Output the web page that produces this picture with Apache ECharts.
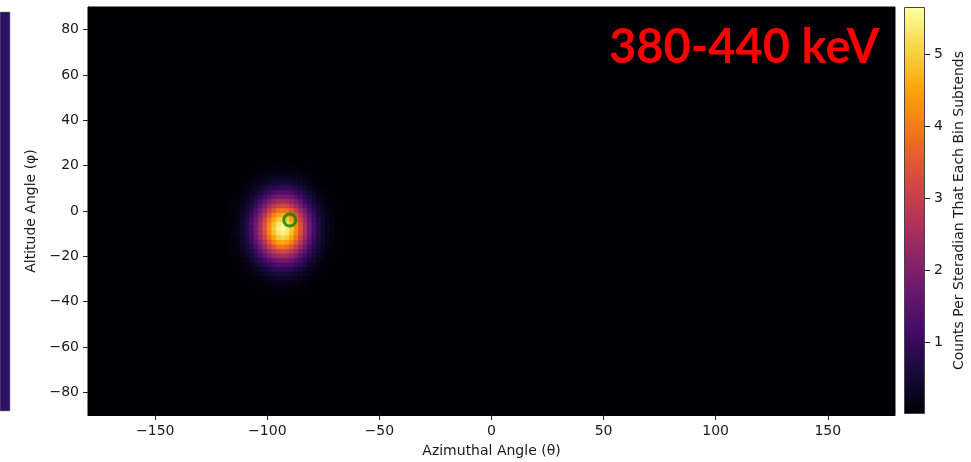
<!DOCTYPE html>
<html>
<head>
<meta charset="utf-8">
<script src="https://cdn.jsdelivr.net/npm/echarts@6/dist/echarts.min.js"></script>
<style>
html,body{margin:0;padding:0;background:#fff;}
#chart{width:971px;height:462px;}
</style>
</head>
<body>
<div id="chart"></div>
<script>
// ---- data ----
const thetaCenters = [-119,-117,-115,-113,-111,-109,-107,-105,-103,-101,-99,-97,-95,-93,-91,-89,-87,-85,-83,-81,-79,-77,-75,-73,-71,-69,-67];
const phiCenters = [20,18,16,14,12,10,8,6,4,2,0,-2,-4,-6,-8,-10,-12,-14,-16,-18,-20,-22,-24,-26,-28,-30,-32,-34,-36];
const counts = [
 [0,0,0,0,0.01,0.01,0.02,0.02,0.03,0.04,0.05,0.06,0.07,0.07,0.07,0.06,0.05,0.04,0.03,0.02,0.02,0.01,0.01,0,0,0,0],
 [0,0,0,0.01,0.01,0.02,0.03,0.04,0.06,0.08,0.10,0.12,0.13,0.13,0.13,0.12,0.10,0.08,0.06,0.04,0.03,0.02,0.01,0.01,0,0,0],
 [0,0,0.01,0.01,0.02,0.03,0.05,0.07,0.11,0.14,0.17,0.20,0.22,0.23,0.22,0.20,0.17,0.14,0.11,0.07,0.05,0.03,0.02,0.01,0.01,0,0],
 [0,0,0.01,0.02,0.03,0.05,0.08,0.12,0.18,0.23,0.29,0.34,0.37,0.38,0.37,0.34,0.29,0.23,0.18,0.12,0.08,0.05,0.03,0.02,0.01,0,0],
 [0,0.01,0.01,0.03,0.05,0.08,0.13,0.20,0.28,0.37,0.46,0.54,0.59,0.61,0.59,0.54,0.46,0.37,0.28,0.20,0.13,0.08,0.05,0.03,0.01,0.01,0],
 [0,0.01,0.02,0.04,0.07,0.13,0.20,0.30,0.43,0.56,0.70,0.82,0.90,0.93,0.90,0.82,0.70,0.56,0.43,0.30,0.20,0.13,0.07,0.04,0.02,0.01,0],
 [0.01,0.02,0.03,0.06,0.11,0.18,0.29,0.44,0.62,0.82,1.02,1.20,1.31,1.36,1.31,1.20,1.02,0.82,0.62,0.44,0.29,0.18,0.11,0.06,0.03,0.02,0.01],
 [0.01,0.02,0.04,0.08,0.15,0.26,0.41,0.61,0.86,1.15,1.43,1.67,1.83,1.89,1.83,1.67,1.43,1.15,0.86,0.61,0.41,0.26,0.15,0.08,0.04,0.02,0.01],
 [0.01,0.03,0.06,0.11,0.20,0.34,0.54,0.82,1.15,1.53,1.90,2.22,2.45,2.52,2.45,2.22,1.90,1.53,1.15,0.82,0.54,0.34,0.20,0.11,0.06,0.03,0.01],
 [0.02,0.04,0.07,0.14,0.26,0.44,0.70,1.05,1.47,1.95,2.43,2.84,3.12,3.22,3.12,2.84,2.43,1.95,1.47,1.05,0.70,0.44,0.26,0.14,0.07,0.04,0.02],
 [0.02,0.04,0.09,0.17,0.31,0.53,0.85,1.28,1.80,2.38,2.97,3.46,3.81,3.93,3.81,3.46,2.97,2.38,1.80,1.28,0.85,0.53,0.31,0.17,0.09,0.04,0.02],
 [0.02,0.05,0.10,0.20,0.37,0.62,0.99,1.49,2.10,2.78,3.46,4.05,4.45,4.59,4.45,4.05,3.46,2.78,2.10,1.49,0.99,0.62,0.37,0.20,0.10,0.05,0.02],
 [0.03,0.06,0.12,0.23,0.41,0.69,1.11,1.67,2.34,3.11,3.87,4.52,4.97,5.12,4.97,4.52,3.87,3.11,2.34,1.67,1.11,0.69,0.41,0.23,0.12,0.06,0.03],
 [0.03,0.06,0.13,0.24,0.44,0.74,1.18,1.78,2.50,3.33,4.14,4.83,5.31,5.48,5.31,4.83,4.14,3.33,2.50,1.78,1.18,0.74,0.44,0.24,0.13,0.06,0.03],
 [0.03,0.06,0.13,0.25,0.45,0.76,1.21,1.82,2.56,3.40,4.23,4.94,5.43,5.60,5.43,4.94,4.23,3.40,2.56,1.82,1.21,0.76,0.45,0.25,0.13,0.06,0.03],
 [0.03,0.06,0.13,0.24,0.44,0.74,1.18,1.78,2.50,3.33,4.14,4.83,5.31,5.48,5.31,4.83,4.14,3.33,2.50,1.78,1.18,0.74,0.44,0.24,0.13,0.06,0.03],
 [0.03,0.06,0.12,0.23,0.41,0.69,1.11,1.67,2.34,3.11,3.87,4.52,4.97,5.12,4.97,4.52,3.87,3.11,2.34,1.67,1.11,0.69,0.41,0.23,0.12,0.06,0.03],
 [0.02,0.05,0.10,0.20,0.37,0.62,0.99,1.49,2.10,2.78,3.46,4.05,4.45,4.59,4.45,4.05,3.46,2.78,2.10,1.49,0.99,0.62,0.37,0.20,0.10,0.05,0.02],
 [0.02,0.04,0.09,0.17,0.31,0.53,0.85,1.28,1.80,2.38,2.97,3.46,3.81,3.93,3.81,3.46,2.97,2.38,1.80,1.28,0.85,0.53,0.31,0.17,0.09,0.04,0.02],
 [0.02,0.04,0.07,0.14,0.26,0.44,0.70,1.05,1.47,1.95,2.43,2.84,3.12,3.22,3.12,2.84,2.43,1.95,1.47,1.05,0.70,0.44,0.26,0.14,0.07,0.04,0.02],
 [0.01,0.03,0.06,0.11,0.20,0.34,0.54,0.82,1.15,1.53,1.90,2.22,2.45,2.52,2.45,2.22,1.90,1.53,1.15,0.82,0.54,0.34,0.20,0.11,0.06,0.03,0.01],
 [0.01,0.02,0.04,0.08,0.15,0.26,0.41,0.61,0.86,1.15,1.43,1.67,1.83,1.89,1.83,1.67,1.43,1.15,0.86,0.61,0.41,0.26,0.15,0.08,0.04,0.02,0.01],
 [0.01,0.02,0.03,0.06,0.11,0.18,0.29,0.44,0.62,0.82,1.02,1.20,1.31,1.36,1.31,1.20,1.02,0.82,0.62,0.44,0.29,0.18,0.11,0.06,0.03,0.02,0.01],
 [0,0.01,0.02,0.04,0.07,0.13,0.20,0.30,0.43,0.56,0.70,0.82,0.90,0.93,0.90,0.82,0.70,0.56,0.43,0.30,0.20,0.13,0.07,0.04,0.02,0.01,0],
 [0,0.01,0.01,0.03,0.05,0.08,0.13,0.20,0.28,0.37,0.46,0.54,0.59,0.61,0.59,0.54,0.46,0.37,0.28,0.20,0.13,0.08,0.05,0.03,0.01,0.01,0],
 [0,0,0.01,0.02,0.03,0.05,0.08,0.12,0.18,0.23,0.29,0.34,0.37,0.38,0.37,0.34,0.29,0.23,0.18,0.12,0.08,0.05,0.03,0.02,0.01,0,0],
 [0,0,0.01,0.01,0.02,0.03,0.05,0.07,0.11,0.14,0.17,0.20,0.22,0.23,0.22,0.20,0.17,0.14,0.11,0.07,0.05,0.03,0.02,0.01,0.01,0,0],
 [0,0,0,0.01,0.01,0.02,0.03,0.04,0.06,0.08,0.10,0.12,0.13,0.13,0.13,0.12,0.10,0.08,0.06,0.04,0.03,0.02,0.01,0.01,0,0,0],
 [0,0,0,0,0.01,0.01,0.02,0.02,0.03,0.04,0.05,0.06,0.07,0.07,0.07,0.06,0.05,0.04,0.03,0.02,0.02,0.01,0.01,0,0,0,0]
];
const sourcePoint = [[-90, -4]];
const xTicks = [-150,-100,-50,0,50,100,150];
const yTicks = [-80,-60,-40,-20,0,20,40,60,80];
const cbarTicks = [1,2,3,4,5];
const cbarMin = 0, cbarMax = 5.66;
const titleText = '380-440 keV';

// ---- build ----
const cells = [];
phiCenters.forEach((phi, i) => {
  thetaCenters.forEach((th, j) => { cells.push([th, phi, counts[i][j]]); });
});
const binW = thetaCenters[1] - thetaCenters[0];
const binH = phiCenters[0] - phiCenters[1];
const inferno = ['#000004','#160b39','#420a68','#6a176e','#932667','#bc3754','#dd513a','#f37819','#fca50a','#f6d746','#fcffa4'];
const minus = v => String(v).replace('-', '\u2212');
const txt = '#1a1a1a';
const font = 'DejaVu Sans';

const chart = echarts.init(document.getElementById('chart'), null, {renderer:'canvas'});
chart.setOption({
  animation: false,
  backgroundColor: '#ffffff',
  grid: [
    {left: 88, right: 76, top: 7, bottom: 47, show: true, backgroundColor: '#010005', borderColor: '#000', borderWidth: 1, containLabel:false, outerBoundsMode:'none'},
    {left: 904, width: 21, top: 7, height: 407, show: false, containLabel:false, outerBoundsMode:'none'}
  ],
  xAxis: [
    {type:'value', gridIndex:0, min:-180, max:180,
     axisLine:{show:true, onZero:false, lineStyle:{color:'#000'}},
     axisTick:{show:true, customValues:xTicks, length:5, lineStyle:{color:'#222'}},
     axisLabel:{customValues:xTicks, formatter:minus, fontFamily:font, fontSize:14, color:txt, margin:9},
     splitLine:{show:false},
     name:'Azimuthal Angle (\u03b8)', nameLocation:'middle', nameGap:29,
     nameTextStyle:{fontFamily:font, fontSize:14, color:txt}},
    {type:'value', gridIndex:1, show:false, min:0, max:1}
  ],
  yAxis: [
    {type:'value', gridIndex:0, min:-90, max:90,
     axisLine:{show:true, onZero:false, lineStyle:{color:'#000'}},
     axisTick:{show:true, customValues:yTicks, length:5, lineStyle:{color:'#222'}},
     axisLabel:{customValues:yTicks, formatter:minus, fontFamily:font, fontSize:14, color:txt, margin:9},
     splitLine:{show:false},
     name:'Altitude Angle (\u03c6)', nameLocation:'middle', nameGap:46,
     nameTextStyle:{fontFamily:font, fontSize:14, color:txt}},
    {type:'value', gridIndex:1, min:cbarMin, max:cbarMax, position:'right',
     axisLine:{show:false, onZero:false},
     axisTick:{show:true, customValues:cbarTicks, length:5, lineStyle:{color:'#222'}},
     axisLabel:{customValues:cbarTicks, fontFamily:font, fontSize:14, color:txt, margin:9},
     splitLine:{show:false},
     name:'Counts Per Steradian That Each Bin Subtends', nameLocation:'middle', nameGap:27, nameRotate:90,
     nameTextStyle:{fontFamily:font, fontSize:14, color:txt}}
  ],
  visualMap: {
    type:'continuous', min:cbarMin, max:cbarMax, dimension:2, seriesIndex:0,
    calculable:false, text:null, showLabel:false, orient:'vertical',
    left:904, top:7, itemWidth:21, itemHeight:407, padding:0,
    inRange:{color:inferno}
  },
  series: [
    {type:'custom', xAxisIndex:0, yAxisIndex:0, data:cells, z:2,
     renderItem: function(params, api){
       const x = api.value(0), y = api.value(1);
       const p0 = api.coord([x - binW/2, y + binH/2]);
       const p1 = api.coord([x + binW/2, y - binH/2]);
       const c = api.visual('color');
       return {type:'rect', shape:{x:p0[0], y:p0[1], width:p1[0]-p0[0], height:p1[1]-p0[1]},
               style:{fill:c, stroke:c, lineWidth:1}};
     }},
    {type:'scatter', xAxisIndex:0, yAxisIndex:0, data:sourcePoint, z:5,
     symbol:'circle', symbolSize:12,
     itemStyle:{color:'rgba(0,0,0,0)', borderColor:'#008000', borderWidth:3}}
  ],
  graphic: [
    {type:'rect', shape:{x:0, y:12, width:10, height:399}, style:{fill:'#2b1160', stroke:'#888', lineWidth:0.6}, z:1},
    {type:'rect', shape:{x:904.5, y:7.5, width:20, height:406}, style:{fill:'none', stroke:'#444', lineWidth:1}, z:100},
    {type:'text', x:609, y:48, z:100, style:{text:titleText, fontFamily:'Lato', fontWeight:'bold', fontSize:47, fill:'#ff0000', verticalAlign:'middle', align:'left'}}
  ]
});
</script>
</body>
</html>
